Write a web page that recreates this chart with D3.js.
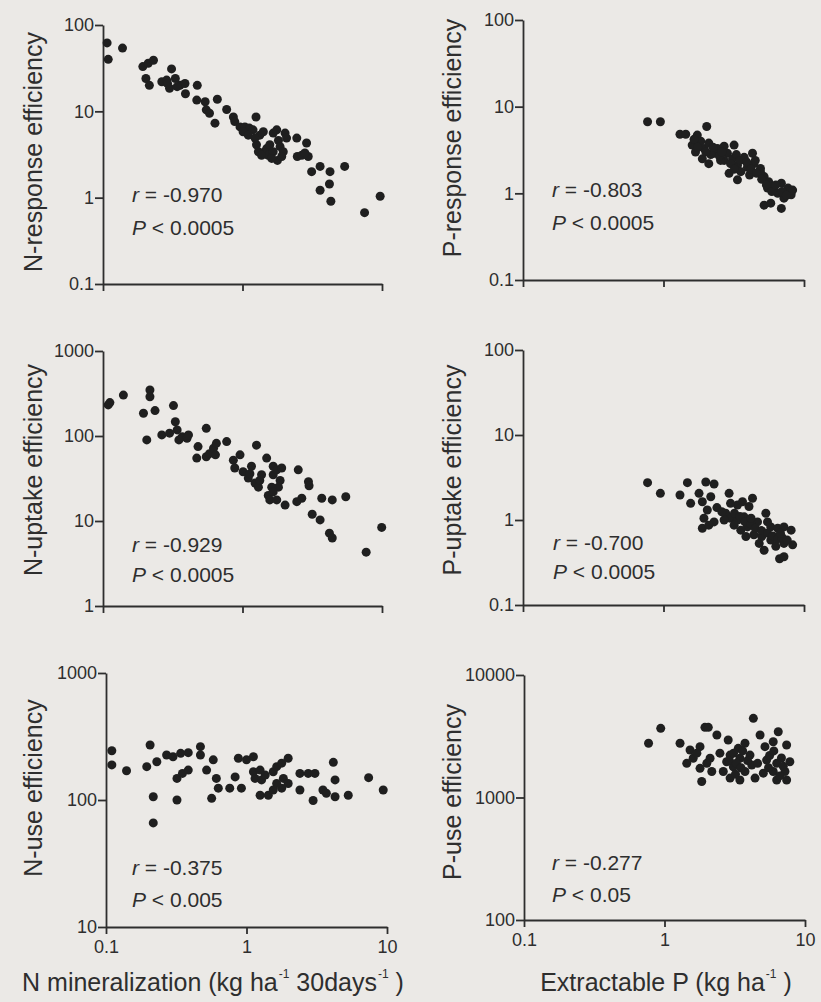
<!DOCTYPE html>
<html>
<head>
<meta charset="utf-8">
<script src="https://cdn.jsdelivr.net/npm/d3@7"></script>
<style>
  html, body { margin: 0; padding: 0; background: #ebe9e6; }
  svg { display: block; }
  text { font-family: "Liberation Sans", Arial, Helvetica, sans-serif; fill: #2e2e2e; }
  .axis path, .axis line { stroke: #2e2e2e; stroke-width: 1.8; }
  .axis text { font-size: 18px; }
  .dot { fill: #1f1f1f; }
</style>
</head>
<body>
<svg id="chart" width="821" height="1002"></svg>
<script>
// Data (log-log scatter panels)
const nRespX = [0.107,0.109,0.138,0.193,0.211,0.23,0.203,0.215,0.264,0.286,0.31,0.30,0.33,0.356,0.387,0.39,0.474,0.47,0.54,0.55,0.58,0.66,0.635,0.77,0.86,0.88,0.96,1.04,1.12,1.19,1.25,1.26,1.33,1.41,1.45,1.49,1.53,1.66,1.76,1.81,1.78,1.86,2.02,1.96,2.45,2.47,2.66,2.88,2.96,3.13,3.6,4.24,5.4,3.6,4.2,4.3,7.5,9.7,1.01,1.10,1.23,1.30,1.37,1.57,1.66,1.91,2.07,1.62,0.29,0.34,2.8];
const nRespY = [62,40,54,33,36,39,24,20,22,23,31,18.5,24,20,21,16,20,13.5,12.9,10.4,9.5,13.8,7.3,10.5,8.6,7.6,6.6,6.6,6.4,6.1,8.6,4.1,5.3,5.8,3.4,3.7,3.1,5.6,6.1,4.6,2.7,3.9,5.6,3.4,4.9,3.0,3.1,4.3,3.0,2.0,2.3,2.0,2.3,1.22,1.44,0.91,0.67,1.04,5.8,5.3,4.9,3.4,3.1,4.1,3.4,3.0,4.9,2.85,21,19.3,3.3];

const pRespX = [0.77,0.95,1.31,1.44,2.03,1.74,1.6,1.84,1.69,1.94,2.1,2.29,1.89,2.1,2.42,2.7,3.18,2.85,3.1,2.7,2.93,3.36,3.75,4.3,3.96,3.36,4.4,4.9,4.1,5.2,5.6,6.1,6.9,7.7,8.1,7.2,8.3,5.2,5.8,6.9,4.9,6.5,5.5,3.55,2.55,2.17,
                1.65,1.75,2.0,2.25,2.5,2.6,3.0,3.3,3.5,3.9,4.2,4.6,5.0,5.4,5.9,6.3,7.0,7.5,4.5,3.2];
const pRespY = [6.7,6.7,4.8,4.8,5.9,4.7,3.6,4.0,3.0,3.3,3.8,2.9,2.5,2.2,3.3,3.5,3.6,2.9,2.5,2.4,1.7,2.1,2.6,2.9,2.0,1.43,2.2,1.94,1.63,1.56,1.36,1.19,1.31,1.15,0.96,0.88,1.09,0.73,0.77,0.67,1.78,1.0,1.15,1.78,2.4,2.8,
                4.2,3.4,3.0,3.4,2.7,3.0,2.2,2.8,2.4,2.3,1.9,1.7,1.45,1.25,1.05,1.25,1.05,0.95,2.4,1.9];

const nUptX = [0.109,0.112,0.14,0.217,0.217,0.195,0.236,0.32,0.206,0.264,0.30,0.33,0.34,0.37,0.40,0.41,0.35,0.55,0.48,0.47,0.55,0.58,0.62,0.65,0.77,0.64,0.86,0.96,0.88,1.26,1.49,1.01,1.1,1.16,1.23,1.3,1.37,1.33,1.66,1.66,1.76,1.91,1.86,1.81,1.53,1.57,1.76,2.02,2.51,2.97,3.0,2.66,2.45,3.7,4.4,5.5,3.16,3.6,4.2,4.4,7.7,9.95,1.13,1.62,1.66];
const nUptY = [232,247,303,348,290,185,199,228,90,103,108,147,118,98,94,103,90,123,75,55,57,62,72,82,86,60,52,60,42,78,55,38,32,44,28,25,35,30,44,35,40,42,30,25,20,17.7,17.7,15.4,40,29,26,18.5,16.9,18.5,17.7,19.3,12,10.3,7.2,6.3,4.3,8.4,36,25,22];

const pUptX = [0.77,0.95,1.31,1.48,2.0,2.29,1.56,1.79,1.89,2.05,2.17,1.94,2.29,1.89,2.93,3.36,3.0,3.65,4.3,2.77,3.0,3.36,3.75,3.96,3.55,3.18,4.4,4.8,5.35,4.67,5.8,6.5,7.2,8.1,8.3,7.2,5.8,5.2,6.3,6.7,7.2,5.0,2.1,2.7,4.06,5.5,3.86,
               3.2,3.5,3.8,4.2,4.5,4.2,5.0,5.5,6.0,6.5,7.0,7.6,6.8,2.4,2.6];
const pUptY = [2.75,2.06,1.97,2.75,2.8,2.65,1.57,2.06,1.64,1.31,1.88,1.05,0.95,0.8,2.06,1.5,1.57,1.64,1.8,1.2,1.05,1.0,1.09,0.83,0.76,0.87,0.67,0.53,1.2,0.95,0.83,0.8,0.83,0.76,0.51,0.53,0.58,0.44,0.49,0.35,0.37,0.64,0.87,1.0,1.44,0.95,0.64,
               1.2,1.1,0.95,0.9,0.8,1.05,0.75,0.7,0.65,0.6,0.62,0.58,0.7,1.4,1.25];

const nUseX = [0.11,0.11,0.14,0.206,0.195,0.23,0.217,0.217,0.27,0.30,0.34,0.385,0.32,0.32,0.35,0.385,0.47,0.47,0.58,0.52,0.565,0.61,0.63,0.76,0.83,0.92,0.875,1.0,1.12,1.12,1.15,1.25,1.28,1.25,1.43,1.55,1.64,1.78,1.98,1.83,1.78,1.64,1.98,2.4,2.75,3.07,2.4,2.98,3.5,3.7,4.15,4.27,4.27,5.3,7.4,9.4,1.36,1.55];
const nUseY = [244,189,170,271,183,200,106,66,226,219,233,236,100,148,162,172,263,226,207,172,103,148,124,124,152,124,213,207,219,167,148,172,144,109,109,167,183,195,213,148,124,135,135,162,162,162,120,99,120,113,198,144,106,109,150,120,157,120];

const pUseX = [0.77,0.94,1.29,1.94,2.05,2.36,1.52,1.79,1.6,1.44,1.79,2.11,2.17,1.84,2.84,2.93,2.77,3.09,3.35,3.74,3.44,2.93,3.44,4.18,4.29,4.79,5.19,5.94,6.45,7.4,5.33,6.29,7.8,7.2,5.94,5.05,4.41,7.4,6.29,2.48,4.06,2.62,3.74,
               2.9,3.1,3.25,3.5,3.6,3.9,3.2,4.6,5.6,6.0,6.8,7.0,6.6,5.5,1.7,2.0];
const pUseY = [2770,3670,2770,3740,3740,3240,2440,2600,2090,1900,1730,2090,1630,1350,2950,2220,1960,1780,2520,2770,2090,1440,1390,1840,4430,3240,2600,2850,3440,2680,2020,1900,1960,1630,1630,1580,1440,1390,1390,2300,2220,1630,1630,
               2000,2300,1900,1750,2400,2000,1550,1900,2200,2400,2100,1800,1500,1750,2300,1900];

const yLabels = ["N-response efficiency","P-response efficiency","N-uptake efficiency","P-uptake efficiency","N-use efficiency","P-use efficiency"];
const yTickSets = [[0.1,1,10,100],[0.1,1,10,100],[1,10,100,1000],[0.1,1,10,100],[10,100,1000],[100,1000,10000]];
const rValues = ["-0.970","-0.803","-0.929","-0.700","-0.375","-0.277"];
const pValues = ["0.0005","0.0005","0.0005","0.0005","0.005","0.05"];
const xTicks = [0.1, 1, 10];

// Layout of each panel on the page
const layout = [
  { xs: nRespX, ys: nRespY, x0: 103, x1: 382, yTop: 25,  yBot: 284, labX: 42,  labY: 152, sx: 132, sy: 202, sGap: 33, bottom: false },
  { xs: pRespX, ys: pRespY, x0: 523, x1: 804, yTop: 20,  yBot: 280, labX: 461, labY: 138, sx: 552, sy: 197, sGap: 33, bottom: false },
  { xs: nUptX,  ys: nUptY,  x0: 103, x1: 382, yTop: 351, yBot: 606, labX: 42,  labY: 470, sx: 132, sy: 552, sGap: 30, bottom: false },
  { xs: pUptX,  ys: pUptY,  x0: 523, x1: 804, yTop: 350, yBot: 605, labX: 461, labY: 470, sx: 553, sy: 550, sGap: 29, bottom: false },
  { xs: nUseX,  ys: nUseY,  x0: 106, x1: 387, yTop: 673, yBot: 927, labX: 42,  labY: 788, sx: 132, sy: 875, sGap: 32, bottom: true },
  { xs: pUseX,  ys: pUseY,  x0: 524, x1: 805, yTop: 675, yBot: 920, labX: 461, labY: 792, sx: 552, sy: 870, sGap: 32, bottom: true }
];

const svg = d3.select("svg#chart");

layout.forEach((p, i) => {
    const ticks = yTickSets[i];
    const x = d3.scaleLog().domain([0.1, 10]).range([p.x0, p.x1]);
    const y = d3.scaleLog().domain([ticks[0], ticks[ticks.length - 1]]).range([p.yBot, p.yTop]);
    const g = svg.append("g");

    // axes
    g.append("g")
     .attr("class", "axis")
     .attr("transform", `translate(0,${p.yBot})`)
     .call(d3.axisBottom(x).tickValues(xTicks).tickSize(7).tickSizeOuter(0).tickPadding(6)
             .tickFormat(p.bottom ? d3.format("~g") : () => ""));

    g.append("g")
     .attr("class", "axis")
     .attr("transform", `translate(${p.x0},0)`)
     .call(d3.axisLeft(y).tickValues(ticks).tickSize(8).tickSizeOuter(0).tickPadding(1)
             .tickFormat(d3.format("~g")));

    g.selectAll(".domain").attr("fill", "none");
    g.selectAll(".axis text").attr("fill", "#2e2e2e");

    // points
    g.selectAll(".dot")
     .data(p.xs.map((v, k) => [v, p.ys[k]]))
     .enter()
     .append("circle")
     .attr("class", "dot")
     .attr("r", 4.5)
     .attr("cx", d => x(d[0]))
     .attr("cy", d => y(d[1]));

    // y label
    g.append("text")
     .attr("transform", `translate(${p.labX},${p.labY}) rotate(-90)`)
     .attr("text-anchor", "middle")
     .style("font-size", "25px")
     .text(yLabels[i]);

    // stats
    const r = g.append("text").attr("x", p.sx).attr("y", p.sy).style("font-size", "21px");
    r.append("tspan").style("font-style", "italic").text("r");
    r.append("tspan").text(" = " + rValues[i]);
    const pv = g.append("text").attr("x", p.sx).attr("y", p.sy + p.sGap).style("font-size", "21px");
    pv.append("tspan").style("font-style", "italic").text("P");
    pv.append("tspan").text(" <  " + pValues[i]);
});

// x axis titles
const t1 = svg.append("text").attr("x", 213).attr("y", 991).attr("text-anchor", "middle").style("font-size", "25px");
t1.append("tspan").text("N mineralization (kg ha");
t1.append("tspan").attr("dx", 1).attr("dy", -13).style("font-size", "12px").text("-1");
t1.append("tspan").attr("dy", 13).text(" 30days");
t1.append("tspan").attr("dx", 1).attr("dy", -13).style("font-size", "12px").text("-1");
t1.append("tspan").attr("dy", 13).text(" )");

const t2 = svg.append("text").attr("x", 666).attr("y", 991).attr("text-anchor", "middle").style("font-size", "25px");
t2.append("tspan").text("Extractable P (kg ha");
t2.append("tspan").attr("dx", 1).attr("dy", -13).style("font-size", "12px").text("-1");
t2.append("tspan").attr("dy", 13).text(" )");
</script>
</body>
</html>
